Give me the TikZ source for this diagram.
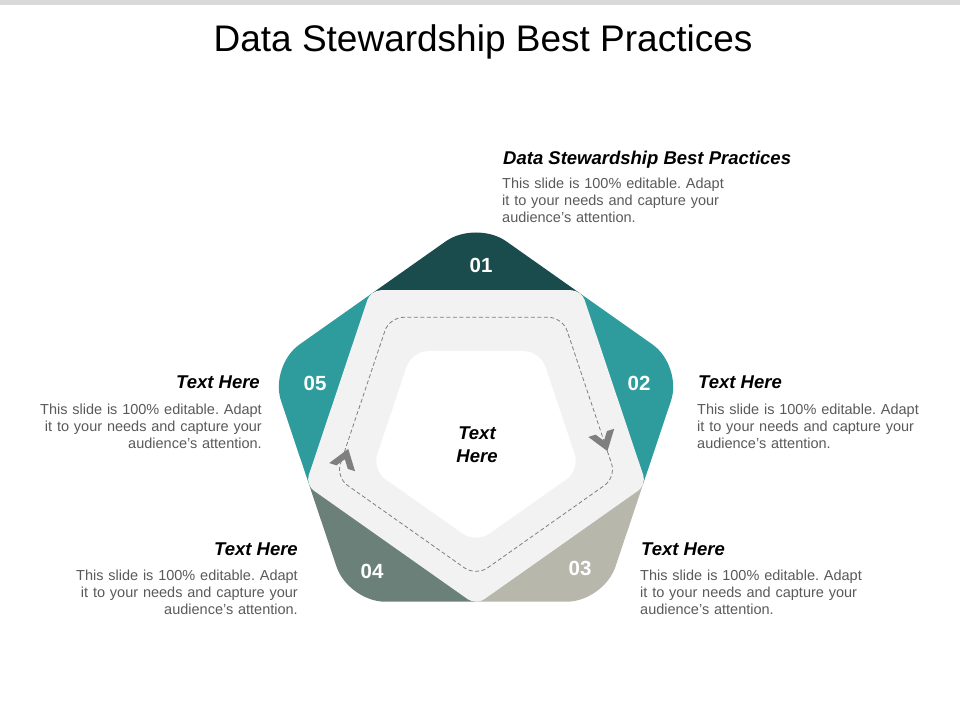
\documentclass[tikz,border=0pt]{standalone}
\usepackage{fontspec}
\setmainfont{Liberation Sans}
\frenchspacing
\definecolor{segdark}{HTML}{1A4C4E}
\definecolor{segteal}{HTML}{2E9B9D}
\definecolor{segsand}{HTML}{B8B7AC}
\definecolor{segsage}{HTML}{6A8078}
\definecolor{band}{HTML}{F2F2F2}
\definecolor{chev}{HTML}{7F7F7F}
\definecolor{bodytext}{HTML}{595959}

\begin{document}
\begin{tikzpicture}[x=1pt,y=-1pt,
  num/.style={text=white,font=\fontsize{20.5}{20.5}\selectfont\bfseries,inner sep=0pt},
  head/.style={font=\fontsize{18.5}{22}\selectfont\bfseries\itshape,inner sep=0pt},
  body/.style={text=bodytext,font=\fontsize{14.5}{17}\selectfont,inner sep=0pt,text width=235pt}]
  \useasboundingbox (0,0) rectangle (960,720);
  \fill[black!15] (0,0) rectangle (960,5);
  \node[font=\fontsize{37}{40}\selectfont,anchor=base,inner sep=0pt] (title) at (483,51) {Data Stewardship Best Practices};

  \begin{scope}[shift={(476,431)},yscale=-1,xscale=1.03]
    % coloured tips
    \begin{scope}
      \clip[rounded corners=37pt] (54:170.7) \foreach \a in {90,162,234,306,18} {-- (\a:211)} -- cycle;
      \foreach \a/\c in {90/segdark,18/segteal,306/segsand,234/segsage,162/segteal}
      {
        \fill[\c] (0,0) -- (\a-36:300) -- (\a:300) -- (\a+36:300) -- cycle;
      }
    \end{scope}
    % band and inner pentagon
    \fill[band,rounded corners=10pt] (306:140.8) \foreach \a in {342,54,126,198,270} {-- (\a:174)} -- cycle;
    \fill[white,rounded corners=16pt,shift={(0,-6)}] (306:85.8) \foreach \a in {342,54,126,198,270} {-- (\a:106)} -- cycle;
    \draw[chev,line width=0.8pt,dash pattern=on 4pt off 2.5pt,rounded corners=14pt,shift={(0,-2)}] (306:115.7) \foreach \a in {342,54,126,198,270} {-- (\a:143)} -- cycle;
    % chevrons
    \fill[chev,shift={(-127,-27)},rotate=-72,scale=1.2] (8,0) -- (-8,11) -- (-8,4.8) -- (-1,0) -- (-8,-4.8) -- (-8,-11) -- cycle;
    \fill[chev,shift={(124.6,-11)},rotate=72,scale=1.2] (8,0) -- (-8,11) -- (-8,4.8) -- (-1,0) -- (-8,-4.8) -- (-8,-11) -- cycle;
  \end{scope}

  \node[num] (n1) at (481,265) {01};
  \node[num] (n2) at (639,383) {02};
  \node[num] (n3) at (580,568) {03};
  \node[num] (n4) at (372,571) {04};
  \node[num] (n5) at (315,383) {05};

  \node[font=\fontsize{18.5}{23}\selectfont\bfseries\itshape,align=center,inner sep=0pt] (hub) at (477,444.5) {Text\\Here};

  \node[head,anchor=base west] (h1) at (503,164.5) {Data Stewardship Best Practices};
  \node[body,align=left,anchor=base west] (b1) at (502,188) {This slide is 100\% editable. Adapt\\it to your needs and capture your\\audience's attention.};
  \node[head,anchor=base west] (h2) at (698,388.5) {Text Here};
  \node[body,align=left,anchor=base west] (b2) at (697,414) {This slide is 100\% editable. Adapt\\it to your needs and capture your\\audience's attention.};
  \node[head,anchor=base west] (h3) at (641,555.5) {Text Here};
  \node[body,align=left,anchor=base west] (b3) at (640,580) {This slide is 100\% editable. Adapt\\it to your needs and capture your\\audience's attention.};
  \node[head,anchor=base east] (h4) at (298,555.5) {Text Here};
  \node[body,align=right,anchor=base east] (b4) at (298,580) {This slide is 100\% editable. Adapt\\it to your needs and capture your\\audience's attention.};
  \node[head,anchor=base east] (h5) at (260,388.5) {Text Here};
  \node[body,align=right,anchor=base east] (b5) at (262,414) {This slide is 100\% editable. Adapt\\it to your needs and capture your\\audience's attention.};
\end{tikzpicture}
\end{document}
